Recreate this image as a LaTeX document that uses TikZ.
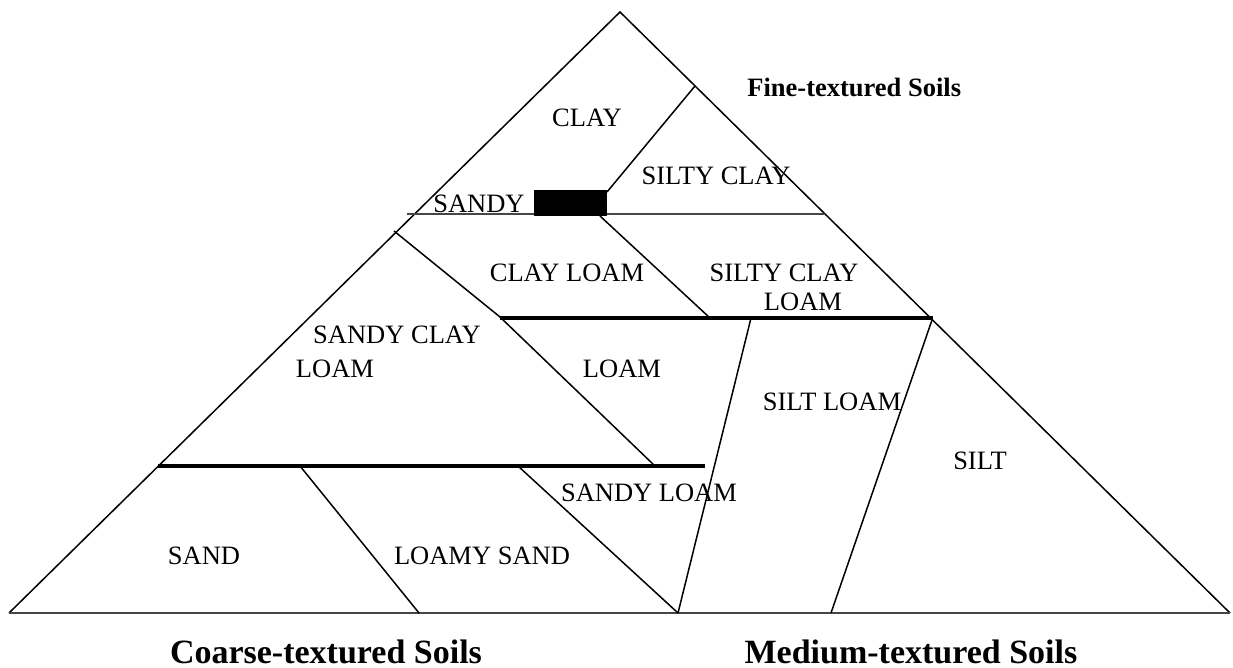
\documentclass[tikz,border=0pt]{standalone}
\usepackage{fontspec}
\setmainfont{Liberation Serif}
\definecolor{basegray}{RGB}{70,70,70}

\begin{document}
\begin{tikzpicture}[x=0.5pt,y=-0.5pt,
  soiltext/.style={font=\fontsize{13.25}{15}\selectfont, anchor=base, inner sep=0pt},
  grouptext/.style={font=\fontsize{17}{20}\selectfont\bfseries, anchor=base, inner sep=0pt},
  divider/.style={line width=0.75pt},
  band/.style={line width=2pt}]
\useasboundingbox (0,0) rectangle (1233,668);

% Corners of the triangle
\coordinate (T) at (620,12);
\coordinate (BL) at (9,613);
\coordinate (BR) at (1230,613);

% Points on the dividing lines
\coordinate (S1) at (695,86);
\coordinate (S2) at (607,192);
\coordinate (H1) at (407,214);
\coordinate (H2) at (825,214);
\coordinate (C1) at (600,216);
\coordinate (C2) at (710,318);
\coordinate (K1) at (394,231);
\coordinate (K2) at (500,317);
\coordinate (K3) at (655,466);
\coordinate (U1) at (500,318);
\coordinate (U2) at (933,318);
\coordinate (W1) at (158,466);
\coordinate (W2) at (705,466);
\coordinate (V) at (678,613);

% Outline
\draw[divider] (BL) -- (T) -- (BR);
\draw[line width=1pt, basegray] (BL) -- (BR);

% Inner lines
\draw[divider] (S1) -- (S2);
\draw[line width=1pt, basegray] (H1) -- (H2);
\fill (534,190) rectangle (607,216);
\draw[divider] (C1) -- (C2);
\draw[divider] (K1) -- (K2) -- (K3);
\draw[band] (U1) -- (U2);
\draw[band] (W1) -- (W2);
\draw[divider] (300,466) -- (419,613);
\draw[divider] (518,466) -- (V);
\draw[divider] (751,318) -- (V);
\draw[divider] (932,320) -- (831,613);

% Texture classes
\node[soiltext] (clay) at (587,127) {CLAY};
\node[soiltext] (siltyclay) at (716,185) {SILTY CLAY};
\node[soiltext] (sandy) at (479,213) {SANDY};
\node[soiltext] (clayloam) at (567,282) {CLAY LOAM};
\node[soiltext] (siltyclayloam) at (784,282) {SILTY CLAY};
\node[soiltext] (siltyclayloamb) at (803,311) {LOAM};
\node[soiltext] (sandyclayloam) at (397,344) {SANDY CLAY};
\node[soiltext] (sandyclayloamb) at (335,378) {LOAM};
\node[soiltext] (loam) at (622,378) {LOAM};
\node[soiltext] (siltloam) at (832,411) {SILT LOAM};
\node[soiltext] (silt) at (980,470) {SILT};
\node[soiltext] (sandyloam) at (649,502) {SANDY LOAM};
\node[soiltext] (sand) at (204,564) {SAND};
\node[soiltext] (loamysand) at (482,564) {LOAMY SAND};

% Groups
\node[grouptext, anchor=base west, font=\fontsize{13.25}{15}\selectfont\bfseries] (fine) at (747,97) {Fine-textured Soils};
\node[grouptext] (coarse) at (326,663) {Coarse-textured Soils};
\node[grouptext] (medium) at (911,663) {Medium-textured Soils};

\end{tikzpicture}
\end{document}
